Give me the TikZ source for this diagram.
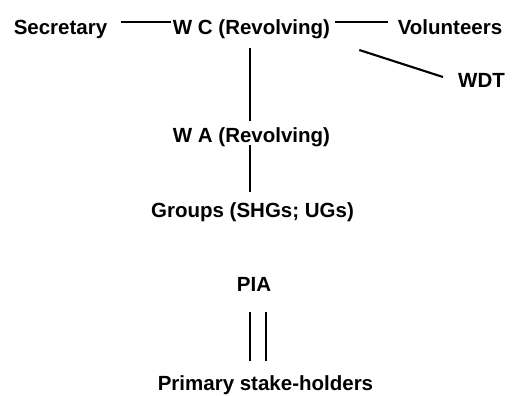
\documentclass[tikz,border=0pt]{standalone}
\usepackage{fontspec}
\setmainfont{Liberation Sans}
\begin{document}
\begin{tikzpicture}[x=1pt,y=1pt,
  lbl/.style={font=\fontsize{20.5}{24}\selectfont\bfseries, inner sep=0pt, text height=14.7pt, text depth=0pt},
  conn/.style={line width=2.1pt}]
\useasboundingbox (0,0) rectangle (515,-396);
\node[lbl] (sec) at (60.5,-27) {Secretary};
\node[lbl] (wc)  at (251.5,-27) {W C (Revolving)};
\node[lbl] (vol) at (450,-27) {Volunteers};
\node[lbl] (wdt) at (481.5,-80) {WDT};
\node[lbl] (wa)  at (251.5,-135) {W A (Revolving)};
\node[lbl] (grp) at (252.5,-210) {Groups (SHGs; UGs)};
\node[lbl] (pia) at (254,-284) {PIA};
\node[lbl] (psh) at (265.5,-383.5) {Primary stake-holders};
\draw[conn, shorten <=14pt, shorten >=2pt] ([yshift=5pt]sec.east) -- ([yshift=5pt]wc.west);
\draw[conn, shorten <=5pt, shorten >=10pt] ([yshift=5pt]wc.east) -- ([yshift=5pt]vol.west);
\draw[conn] ([xshift=29pt,yshift=-23pt]wc.east) -- ([xshift=-15pt,yshift=3pt]wdt.west);
\draw[conn, shorten <=13.5pt, shorten >=6.5pt] ([xshift=-1.5pt]wc.south) -- ([xshift=-1.5pt]wa.north);
\draw[conn, shorten <=2.5pt, shorten >=10.5pt] ([xshift=-1.5pt]wa.south) -- ([xshift=-2.5pt]grp.north);
\draw[conn, shorten <=20.5pt, shorten >=15pt] ([xshift=-4pt]pia.south) -- ([xshift=-15.5pt]psh.north);
\draw[conn, shorten <=20.5pt, shorten >=15pt] ([xshift=12pt]pia.south) -- ([xshift=0.5pt]psh.north);
\end{tikzpicture}
\end{document}
